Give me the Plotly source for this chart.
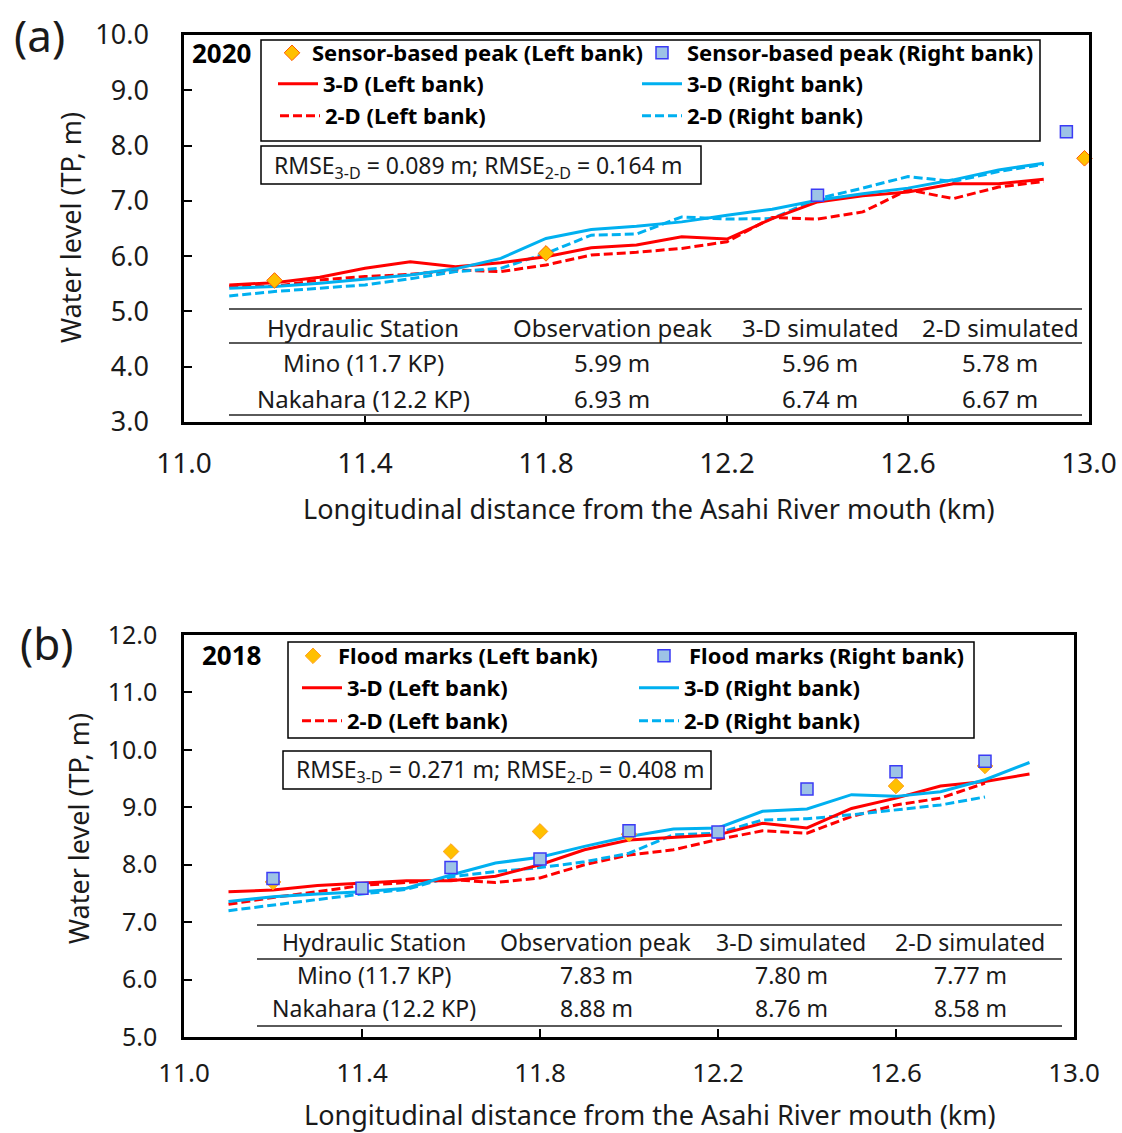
import plotly.graph_objects as go

W, H = 1122, 1133
FONT = "Noto Sans"

# ---------------- (a) 2020 flood ----------------
km_2020 = [11.1, 11.2, 11.3, 11.4, 11.5, 11.6, 11.7, 11.8, 11.9, 12.0,
           12.1, 12.2, 12.3, 12.4, 12.5, 12.6, 12.7, 12.8, 12.9]
left_3d_2020 = [5.48, 5.52, 5.62, 5.78, 5.90, 5.81, 5.88, 5.99, 6.15, 6.20,
                6.35, 6.31, 6.68, 6.98, 7.09, 7.16, 7.31, 7.31, 7.39]
right_3d_2020 = [5.42, 5.45, 5.51, 5.58, 5.66, 5.77, 5.96, 6.32, 6.48, 6.54,
                 6.62, 6.74, 6.85, 7.01, 7.13, 7.23, 7.38, 7.56, 7.68]
left_2d_2020 = [5.45, 5.45, 5.57, 5.63, 5.67, 5.75, 5.72, 5.84, 6.02, 6.07,
                6.14, 6.26, 6.70, 6.67, 6.80, 7.20, 7.04, 7.25, 7.35]
right_2d_2020 = [5.28, 5.36, 5.42, 5.48, 5.59, 5.72, 5.78, 6.05, 6.38, 6.40,
                 6.71, 6.67, 6.68, 7.04, 7.23, 7.44, 7.35, 7.53, 7.66]
sensor_left_km = [11.2, 11.8, 12.99]
sensor_left_wl = [5.56, 6.05, 7.77]
sensor_right_km = [12.4, 12.95]
sensor_right_wl = [7.10, 8.25]

# ---------------- (b) 2018 flood ----------------
km_2018 = [11.1, 11.2, 11.3, 11.4, 11.5, 11.6, 11.7, 11.8, 11.9, 12.0,
           12.1, 12.2, 12.3, 12.4, 12.5, 12.6, 12.7, 12.8, 12.9]
left_3d_2018 = [7.53, 7.56, 7.64, 7.68, 7.72, 7.72, 7.80, 8.00, 8.26, 8.43,
                8.47, 8.52, 8.72, 8.64, 8.98, 9.16, 9.37, 9.45, 9.58]
right_3d_2018 = [7.36, 7.44, 7.49, 7.53, 7.59, 7.82, 8.03, 8.13, 8.32, 8.49,
                 8.62, 8.64, 8.93, 8.97, 9.22, 9.19, 9.27, 9.48, 9.78]
km_2018_2d = [11.1, 11.2, 11.3, 11.4, 11.5, 11.6, 11.7, 11.8, 11.9, 12.0,
              12.1, 12.2, 12.3, 12.4, 12.5, 12.6, 12.7, 12.8]
left_2d_2018 = [7.31, 7.43, 7.53, 7.64, 7.69, 7.74, 7.69, 7.77, 8.00, 8.17,
                8.26, 8.44, 8.59, 8.55, 8.84, 9.04, 9.16, 9.42]
right_2d_2018 = [7.20, 7.30, 7.40, 7.49, 7.57, 7.79, 7.88, 7.95, 8.05, 8.20,
                 8.52, 8.55, 8.78, 8.80, 8.87, 8.95, 9.04, 9.18]
flood_left_km = [11.2, 11.6, 11.8, 12.0, 12.6, 12.8]
flood_left_wl = [7.70, 8.23, 8.58, 8.53, 9.37, 9.72]
flood_right_km = [11.2, 11.4, 11.6, 11.8, 12.0, 12.2, 12.4, 12.6, 12.8]
flood_right_wl = [7.76, 7.59, 7.95, 8.10, 8.59, 8.57, 9.32, 9.62, 9.80]

# ---------------- summary tables ----------------
table_header = ["Hydraulic Station", "Observation peak", "3-D simulated", "2-D simulated"]
stations = ["Mino (11.7 KP)", "Nakahara (12.2 KP)"]
obs_2020 = [5.99, 6.93]
sim3d_2020 = [5.96, 6.74]
sim2d_2020 = [5.78, 6.67]
obs_2018 = [7.83, 8.88]
sim3d_2018 = [7.80, 8.76]
sim2d_2018 = [7.77, 8.58]
rmse_2020 = (0.089, 0.164)
rmse_2018 = (0.271, 0.408)

x_ticks = [11.0, 11.4, 11.8, 12.2, 12.6, 13.0]

RED = "#FF0000"
BLUE = "#00B0F0"
DASH = "9px,4px"


def px(x):
    return x / W


def py(y):
    return 1 - y / H


fig = go.Figure()
legend_layout = {}
legend_count = [0]


def new_legend(x, y, itemwidth=40):
    """One legend box per entry so each key can sit in its own column/row."""
    legend_count[0] += 1
    n = legend_count[0]
    lid = "legend" if n == 1 else f"legend{n}"
    legend_layout[lid] = dict(x=px(x), y=py(y), xanchor="left", yanchor="middle",
                              orientation="v", bgcolor="rgba(0,0,0,0)", borderwidth=0,
                              itemwidth=itemwidth, visible=True,
                              font=dict(family=FONT, size=22, color="black"))
    return lid


def add_panel(sfx, km, l3, r3, km2d, l2, r2, ml_km, ml_wl, mr_km, mr_wl,
              obs_left_name, obs_right_name, diamond_line, key_pos):
    xa = "x" + sfx
    ya = "y" + sfx
    lg = {k: new_legend(*v) for k, v in key_pos.items()}
    fig.add_trace(go.Scatter(x=km2d, y=l2, name="<b>2-D (Left bank)</b>", mode="lines",
                             xaxis=xa, yaxis=ya, legend=lg["2dl"], showlegend=True,
                             line=dict(color=RED, width=3, dash=DASH)))
    fig.add_trace(go.Scatter(x=km2d, y=r2, name="<b>2-D (Right bank)</b>", mode="lines",
                             xaxis=xa, yaxis=ya, legend=lg["2dr"], showlegend=True,
                             line=dict(color=BLUE, width=3, dash=DASH)))
    fig.add_trace(go.Scatter(x=km, y=l3, name="<b>3-D (Left bank)</b>", mode="lines",
                             xaxis=xa, yaxis=ya, legend=lg["3dl"], showlegend=True,
                             line=dict(color=RED, width=3)))
    fig.add_trace(go.Scatter(x=km, y=r3, name="<b>3-D (Right bank)</b>", mode="lines",
                             xaxis=xa, yaxis=ya, legend=lg["3dr"], showlegend=True,
                             line=dict(color=BLUE, width=3)))
    fig.add_trace(go.Scatter(x=ml_km, y=ml_wl, name=obs_left_name, mode="markers",
                             xaxis=xa, yaxis=ya, legend=lg["obsl"], cliponaxis=False,
                             showlegend=True,
                             marker=dict(symbol="diamond", size=12, color="#FFC000",
                                         line=dict(color=diamond_line, width=1))))
    fig.add_trace(go.Scatter(x=mr_km, y=mr_wl, name=obs_right_name, mode="markers",
                             xaxis=xa, yaxis=ya, legend=lg["obsr"], cliponaxis=False,
                             showlegend=True,
                             marker=dict(symbol="square", size=12, color="#9DC3E6",
                                         line=dict(color="#3B3BF5", width=1.5))))


add_panel("", km_2020, left_3d_2020, right_3d_2020, km_2020,
          left_2d_2020, right_2d_2020, sensor_left_km, sensor_left_wl,
          sensor_right_km, sensor_right_wl,
          "<b>Sensor-based peak (Left bank)</b>", "<b>Sensor-based peak (Right bank)</b>",
          "#FF5A00",
          {"obsl": (272, 53, 30), "obsr": (637, 53), "3dl": (273, 84),
           "3dr": (637, 84), "2dl": (275, 116), "2dr": (637, 116)})
add_panel("2", km_2018, left_3d_2018, right_3d_2018, km_2018_2d,
          left_2d_2018, right_2d_2018, flood_left_km, flood_left_wl,
          flood_right_km, flood_right_wl,
          "<b>Flood marks (Left bank)</b>", "<b>Flood marks (Right bank)</b>",
          "#FFA020",
          {"obsl": (288, 656), "obsr": (639, 656), "3dl": (297, 688),
           "3dr": (634, 688), "2dl": (297, 721), "2dr": (634, 721)})


def axis_x(domain, size, standoff, anchor):
    return dict(domain=domain, range=[11, 13], tickvals=x_ticks, tickformat=".1f",
                ticks="inside", ticklen=8, tickwidth=2, tickcolor="black",
                showline=True, linewidth=2.5, linecolor="black", mirror=True,
                showgrid=False, zeroline=False, ticklabelstandoff=standoff,
                automargin=False, anchor=anchor,
                tickfont=dict(family=FONT, size=size, color="#1a1a1a"))


def axis_y(domain, rng, size, standoff, anchor):
    return dict(domain=domain, range=rng, dtick=1, tick0=rng[0], tickformat=".1f",
                ticks="inside", ticklen=8, tickwidth=2, tickcolor="black",
                showline=True, linewidth=2.5, linecolor="black", mirror=True,
                showgrid=False, zeroline=False, ticklabelstandoff=standoff,
                automargin=False, anchor=anchor,
                tickfont=dict(family=FONT, size=size, color="#1a1a1a"))


fig.update_layout(
    width=W, height=H, margin=dict(l=0, r=0, t=0, b=0, autoexpand=False),
    paper_bgcolor="white", plot_bgcolor="white", showlegend=True,
    font=dict(family=FONT, color="black"),
    xaxis=axis_x([px(184), px(1089)], 28, 15, "y"),
    yaxis=axis_y([py(422), py(35)], [3, 10], 27, 27, "x"),
    xaxis2=axis_x([px(184), px(1074)], 26, 11, "y2"),
    yaxis2=axis_y([py(1037), py(635)], [5, 12], 25, 19, "x2"),
    **legend_layout,
)

shapes = []
ann = []


def box(x0, y0, x1, y1, color="black", width=1.5):
    shapes.append(dict(type="rect", xref="paper", yref="paper",
                       x0=px(x0), x1=px(x1), y0=py(y1), y1=py(y0),
                       line=dict(color=color, width=width), fillcolor="rgba(0,0,0,0)"))


def hline(x0, x1, y, color="#5a5a5a", width=2):
    shapes.append(dict(type="line", xref="paper", yref="paper",
                       x0=px(x0), x1=px(x1), y0=py(y), y1=py(y),
                       line=dict(color=color, width=width)))


def text(x, y, s, size, anchor="center", bold=False, color="#1a1a1a", angle=0):
    ann.append(dict(xref="paper", yref="paper", x=px(x), y=py(y), text=s,
                    showarrow=False, xanchor=anchor, yanchor="middle", textangle=angle,
                    font=dict(family=FONT, size=size, color=color,
                              weight="bold" if bold else "normal")))


# legend frames and RMSE boxes
box(261, 40, 1040, 141)
box(288, 642, 974, 738)
box(261, 146, 701, 184)
box(283, 751, 711, 789)

rmse_fmt = "RMSE<sub>3-D</sub> = {:.3f} m; RMSE<sub>2-D</sub> = {:.3f} m"
text(272, 166, rmse_fmt.format(*rmse_2020), 23, anchor="left")
text(294, 770, rmse_fmt.format(*rmse_2018), 23, anchor="left")


def table(lines_y, x0, x1, rows_y, cols_x, obs, s3, s2, size):
    for yy in lines_y:
        hline(x0, x1, yy)
    for cx, h in zip(cols_x, table_header):
        text(cx, rows_y[0], h, size)
    for i, st in enumerate(stations):
        vals = [st, f"{obs[i]:.2f} m", f"{s3[i]:.2f} m", f"{s2[i]:.2f} m"]
        for cx, v in zip(cols_x, vals):
            text(cx, rows_y[i + 1], v, size)


table([309, 343, 415], 229, 1082, [327, 362, 398], [363, 612, 820, 1000],
      obs_2020, sim3d_2020, sim2d_2020, 24)
table([925, 959, 1026], 257, 1062, [942, 975, 1008], [374, 596, 791, 970],
      obs_2018, sim3d_2018, sim2d_2018, 23)

# panel labels, years and axis titles
text(39, 35, "(a)", 44)
text(46, 643, "(b)", 44)
text(222, 53, "2020", 26, bold=True, color="black")
text(232, 655, "2018", 26, bold=True, color="black")
xt = "Longitudinal distance from the Asahi River mouth (km)"
yt = "Water level (TP, m)"
text(649, 508, xt, 27)
text(650, 1114, xt, 27)
text(70, 228, yt, 27, angle=-90)
text(78, 829, yt, 27, angle=-90)

fig.update_layout(shapes=shapes, annotations=ann)
fig.write_html("out.html")
